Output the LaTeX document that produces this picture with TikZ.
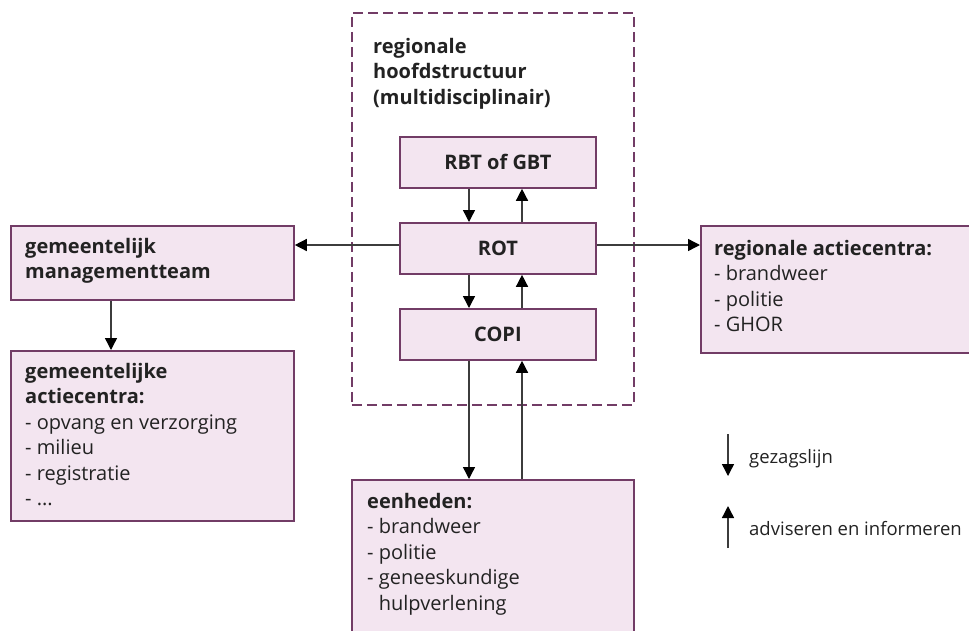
\documentclass[tikz,border=0pt]{standalone}
\usepackage{fontspec}
\setmainfont{Open Sans}
\usetikzlibrary{arrows.meta}
\definecolor{boxfill}{HTML}{F3E5F0}
\definecolor{boxline}{HTML}{723C66}
\definecolor{ink}{HTML}{222222}
\definecolor{wire}{HTML}{3C3C3C}
\tikzset{
  box/.style={draw=boxline, line width=1.8pt, fill=boxfill, inner sep=0pt},
  frame/.style={draw=boxline, line width=1.6pt, dash pattern=on 10pt off 5pt, inner sep=0pt},
  txt/.style={inner sep=0pt, align=left, anchor=north west, text=ink,
    font=\fontsize{20}{25.5}\selectfont},
  ctr/.style={inner sep=0pt, text=ink, font=\fontsize{20}{25.5}\selectfont\bfseries},
  legtxt/.style={inner sep=0pt, anchor=base west, text=ink, font=\fontsize{18.5}{22}\selectfont},
  link/.style={draw=wire, line width=1.4pt, -{Triangle[length=12pt,width=12pt,color=black]}},
}
\newcommand{\hd}[1]{\textbf{#1}}
\begin{document}
\begin{tikzpicture}[x=1pt,y=-1pt]
\useasboundingbox (0,0) rectangle (969,630);

% multidisciplinary frame
\node[frame, minimum width=282pt, minimum height=392pt, anchor=north west] (hoofd) at (351,12) {};
\node[txt] (hoofdtxt) at (373,53-17.85) {\strut\hd{regionale}\\\hd{hoofdstructuur}\\\hd{(multidisciplinair)}};

% central chain
\node[box, minimum width=196pt, minimum height=51pt, anchor=north west] (rbt) at (399,136) {};
\node[box, minimum width=196pt, minimum height=51pt, anchor=north west] (rot) at (399,222) {};
\node[box, minimum width=196pt, minimum height=51pt, anchor=north west] (copi) at (399,308) {};
\node[ctr] at (rbt.center) {RBT of GBT};
\node[ctr] at (rot.center) {ROT};
\node[ctr] at (copi.center) {COPI};

% municipal side
\node[box, minimum width=283pt, minimum height=74pt, anchor=north west] (mgmt) at (10,225) {};
\node[txt] (mgmttxt) at (25,253-17.85) {\strut\hd{gemeentelijk}\\\hd{managementteam}};
\node[box, minimum width=283pt, minimum height=170pt, anchor=north west] (gac) at (10,350) {};
\node[txt] (gactxt) at (25,378-17.85) {\strut\hd{gemeentelijke}\\\hd{actiecentra:}\\- opvang en verzorging\\- milieu\\- registratie\\- ...};

% regional action centres
\node[box, minimum width=280pt, minimum height=127pt, anchor=north west] (rac) at (700,225) {};
\node[txt] (ractxt) at (714,255-17.85) {\strut\hd{regionale actiecentra:}\\- brandweer\\- politie\\- GHOR};

% units
\node[box, minimum width=282pt, minimum height=170pt, anchor=north west] (eenh) at (351,479) {};
\node[txt] (eenhtxt) at (367,508-17.85) {\strut\hd{eenheden:}\\- brandweer\\- politie\\- geneeskundige\\\phantom{- }hulpverlening};

% command lines (down) and advisory lines (up)
\draw[link] (rbt.south -| 469,0) -- (rot.north -| 469,0);
\draw[link] (rot.north -| 522,0) -- (rbt.south -| 522,0);
\draw[link] (rot.south -| 469,0) -- (copi.north -| 469,0);
\draw[link] (copi.north -| 522,0) -- (rot.south -| 522,0);
\draw[link] (copi.south -| 469,0) -- (eenh.north -| 469,0);
\draw[link] (eenh.north -| 522,0) -- (copi.south -| 522,0);
\draw[link] (rot.west |- 0,245) -- (mgmt.east |- 0,245);
\draw[link] (rot.east |- 0,245) -- (rac.west |- 0,245);
\draw[link] (mgmt.south -| 111,0) -- (gac.north -| 111,0);

% legend
\coordinate (lgA) at (728,434);
\coordinate (lgB) at (728,476);
\coordinate (lgC) at (728,548);
\coordinate (lgD) at (728,506);
\draw[link] (lgA) -- (lgB);
\draw[link] (lgC) -- (lgD);
\node[legtxt] (lg1) at (749,463) {gezagslijn};
\node[legtxt] (lg2) at (749,535) {adviseren en informeren};
\end{tikzpicture}
\end{document}
